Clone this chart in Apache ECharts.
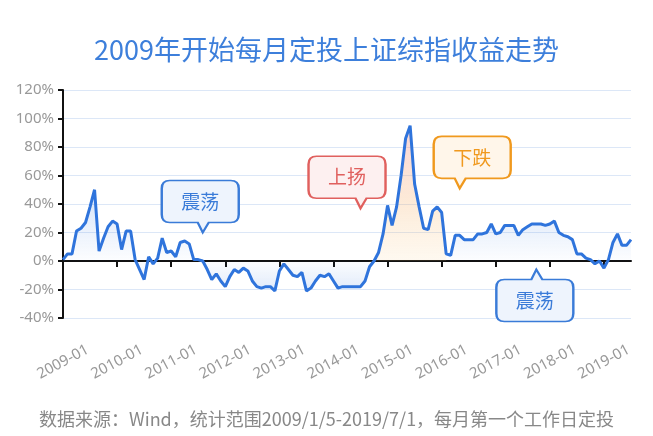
<!DOCTYPE html>
<html>
<head>
<meta charset="utf-8">
<script src="https://cdn.jsdelivr.net/npm/echarts/dist/echarts.min.js"></script>
<style>
  html, body { margin: 0; padding: 0; background: #fff; }
  #chart { width: 653px; height: 436px; }
</style>
</head>
<body>
<div id="chart"></div>
<script>
// 月份：2009-01 到 2019-07
const startYear = 2009
const monthCount = 127
const months = []
for (let i = 0; i < monthCount; i++) {
  const y = startYear + Math.floor(i / 12)
  const m = (i % 12) + 1
  months.push(y + '-' + (m < 10 ? '0' + m : m))
}

// 每月定投累计收益率 (%)，按年分行
const returns = [
  1, 5, 5, 21, 23, 27, 38, 50, 7, 16, 24, 28,          // 2009
  26, 8, 21, 21, 1, -6, -13, 3, -2, 2, 16, 6,          // 2010
  7, 3, 13, 14, 12, 1, 1, 0, -6, -13, -9, -14,         // 2011
  -18, -11, -6, -8, -5, -7, -14, -18, -19, -18, -18, -21, // 2012
  -7, -2, -6, -10, -11, -8, -21, -19, -14, -10, -11, -9,  // 2013
  -14, -19, -18, -18, -18, -18, -18, -14, -4, 0, 6, 19,   // 2014
  39, 25, 38, 60, 86, 95, 54, 38, 23, 22, 35, 38,      // 2015
  34, 5, 4, 18, 18, 15, 15, 15, 19, 19, 20, 26,        // 2016
  19, 20, 25, 25, 25, 18, 22, 24, 26, 26, 26, 25,      // 2017
  26, 28, 20, 18, 17, 15, 5, 5, 2, 1, -2, 0,           // 2018
  -5, 1, 13, 19, 11, 11, 15                            // 2019
]

// 上扬-下跌阶段（用暖色填充）
const peakStart = 68
const peakEnd = 85

// 气泡标注
const notes = [
  { text: '震荡', month: '2011-08', value: 20, color: '#3a7bd8', fill: '#eef4fd', tailX: 41, up: false },
  { text: '上扬', month: '2014-07', value: 37, color: '#e0605e', fill: '#fdf0f0', tailX: 52, up: false },
  { text: '下跌', month: '2016-05', value: 51, color: '#f0991e', fill: '#fff6ea', tailX: 26, up: false },
  { text: '震荡', month: '2017-10', value: -6, color: '#3a7bd8', fill: '#eef4fd', tailX: 40, up: true }
]

const yTicks = { min: -40, max: 120, interval: 20 }

const BW = 77, BH = 42, BT = 10

function bubblePath(w, h, t, tx, up) {
  if (!up) {
    return 'path://M8,0 L' + (w - 8) + ',0 Q' + w + ',0 ' + w + ',8 L' + w + ',' + (h - 8) +
      ' Q' + w + ',' + h + ' ' + (w - 8) + ',' + h + ' L' + (tx + 6) + ',' + h + ' L' + tx + ',' + (h + t) +
      ' L' + (tx - 5) + ',' + h + ' L8,' + h + ' Q0,' + h + ' 0,' + (h - 8) + ' L0,8 Q0,0 8,0 Z'
  }
  return 'path://M8,' + t + ' L' + (tx - 5) + ',' + t + ' L' + tx + ',0 L' + (tx + 6) + ',' + t +
    ' L' + (w - 8) + ',' + t + ' Q' + w + ',' + t + ' ' + w + ',' + (t + 8) + ' L' + w + ',' + (t + h - 8) +
    ' Q' + w + ',' + (t + h) + ' ' + (w - 8) + ',' + (t + h) + ' L8,' + (t + h) + ' Q0,' + (t + h) + ' 0,' + (t + h - 8) +
    ' L0,' + (t + 8) + ' Q0,' + t + ' 8,' + t + ' Z'
}

const areaBlue = returns.map((v, i) => (i > peakStart && i < peakEnd) ? '-' : v)
const areaPeak = returns.map((v, i) => (i >= peakStart && i <= peakEnd) ? v : '-')

const markData = notes.map(n => ({
  coord: [n.month, n.value],
  symbol: bubblePath(BW, BH, BT, n.tailX, n.up),
  symbolSize: [BW, BH + BT],
  symbolOffset: [BW / 2 - n.tailX, n.up ? (BH + BT) / 2 : -(BH + BT) / 2],
  itemStyle: { color: n.fill, borderColor: n.color, borderWidth: 2 },
  label: {
    show: true,
    position: 'inside',
    formatter: n.text,
    color: n.color,
    fontSize: 19,
    fontFamily: 'Noto Sans CJK SC',
    offset: [0, n.up ? BT / 2 : -BT / 2]
  }
}))

const chart = echarts.init(document.getElementById('chart'))
const option = {
  animation: false,
  title: [
    {
      text: '2009年开始每月定投上证综指收益走势',
      left: 'center',
      top: 31,
      textStyle: { color: '#3d7fdb', fontSize: 27, fontWeight: 'normal', fontFamily: 'Noto Sans CJK SC' }
    },
    {
      text: '数据来源：Wind，统计范围2009/1/5-2019/7/1，每月第一个工作日定投',
      left: 'center',
      top: 405,
      textStyle: { color: '#888', fontSize: 18, fontWeight: 'normal', fontFamily: 'Noto Sans CJK SC' }
    }
  ],
  grid: { left: 63, right: 22, top: 90, bottom: 118 },
  xAxis: [
    {
      type: 'category',
      data: months,
      boundaryGap: false,
      axisLine: { show: false, onZero: false },
      axisTick: { show: false },
      splitLine: { show: false },
      axisLabel: {
        interval: 11,
        rotate: 28,
        align: 'center',
        verticalAlign: 'middle',
        margin: 44,
        color: '#999',
        fontSize: 15,
        fontFamily: 'Noto Sans'
      }
    },
    {
      type: 'category',
      data: months,
      boundaryGap: false,
      position: 'top',
      axisLine: { show: true, onZero: true, lineStyle: { color: '#111', width: 2 } },
      axisTick: { show: true, inside: true, interval: 11, length: 6, lineStyle: { color: '#111', width: 2 } },
      axisLabel: { show: false },
      splitLine: { show: false }
    }
  ],
  yAxis: {
    type: 'value',
    min: yTicks.min,
    max: yTicks.max,
    interval: yTicks.interval,
    axisLine: { show: true, lineStyle: { color: '#111', width: 2 } },
    axisTick: { show: true, length: 5, lineStyle: { color: '#111', width: 2 } },
    axisLabel: {
      formatter: '{value}%',
      color: '#999',
      fontSize: 15,
      margin: 9,
      fontFamily: 'Noto Sans'
    },
    splitLine: { lineStyle: { color: '#dce7f7', width: 1 } }
  },
  series: [
    {
      name: 'areaBlue',
      type: 'line',
      data: areaBlue,
      symbol: 'none',
      silent: true,
      lineStyle: { width: 0 },
      areaStyle: {
        color: new echarts.graphic.LinearGradient(0, 0, 0, 1, [
          { offset: 0, color: 'rgba(52,120,224,0.30)' },
          { offset: 0.7, color: 'rgba(52,120,224,0.02)' },
          { offset: 1, color: 'rgba(52,120,224,0.22)' }
        ])
      }
    },
    {
      name: 'areaPeak',
      type: 'line',
      data: areaPeak,
      symbol: 'none',
      silent: true,
      lineStyle: { width: 0 },
      areaStyle: {
        color: new echarts.graphic.LinearGradient(0, 0, 0, 1, [
          { offset: 0, color: 'rgba(236,120,120,0.45)' },
          { offset: 0.55, color: 'rgba(245,170,95,0.35)' },
          { offset: 1, color: 'rgba(250,205,130,0.15)' }
        ])
      }
    },
    {
      name: '收益率',
      type: 'line',
      data: returns,
      symbol: 'none',
      lineStyle: { color: '#2f74dc', width: 3 },
      markPoint: { silent: true, data: markData }
    }
  ]
}
chart.setOption(option)
</script>
</body>
</html>
